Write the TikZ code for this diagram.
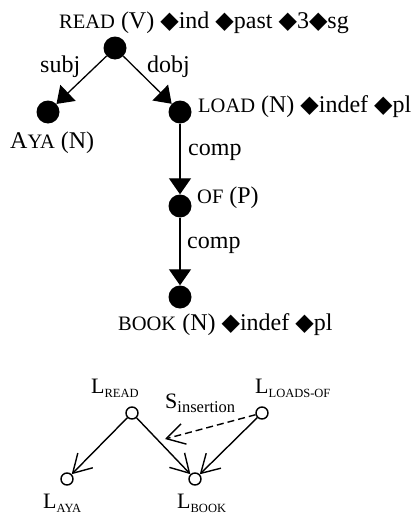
\documentclass[tikz,border=0pt]{standalone}
\usepackage{fontspec}
\setmainfont{Liberation Serif}
\newfontfamily\diafont{DejaVu Sans}
\usetikzlibrary{arrows.meta}
\newcommand{\sku}[1]{{\fontsize{20.5}{22}\selectfont #1}}
\newcommand{\dia}{{\diafont\fontsize{24}{26}\selectfont ◆}}
\newcommand{\lx}[3][12.5]{#2\raisebox{-4pt}{\fontsize{#1}{14}\selectfont #3}}
\begin{document}
\begin{tikzpicture}[x=1pt, y=-1pt,
        word/.style={circle, fill, inner sep=0pt, minimum size=23pt},
        lex/.style={circle, draw, line width=1.4pt, inner sep=0pt, minimum size=12pt},
        txt/.style={anchor=base west, inner sep=0pt, font=\fontsize{24}{26}\selectfont},
        ltxt/.style={anchor=base west, inner sep=0pt, font=\fontsize{22}{24}\selectfont},
        dep/.style={-{Triangle[length=16pt,width=22pt]}, line width=1.3pt},
        link/.style={-{Straight Barb[length=18pt,width=21pt]}, line width=1.4pt}
    ]
        \useasboundingbox (0,0) rectangle (415,514);
        % dependency tree
        \node[word] (read) at (115,48) {};
        \node[word] (aya) at (48,112) {};
        \node[word] (load) at (180,112) {};
        \node[word] (of) at (180,206) {};
        \node[word] (book) at (180,297) {};
        
        \node[txt] (readlbl) at (59,28) {\sku{READ} (V) \dia ind \dia past \dia 3\dia sg};
        \node[txt] (ayalbl) at (10,148) {A\sku{YA} (N)};
        \node[txt] (loadlbl) at (198,112) {\sku{LOAD} (N) \dia indef \dia pl};
        \node[txt] (oflbl) at (197,203) {\sku{OF} (P)};
        \node[txt] (booklbl) at (118,330) {\sku{BOOK} (N) \dia indef \dia pl};
        \node[txt] (subjlbl) at (40,72) {subj};
        \node[txt] (dobjlbl) at (147,72) {dobj};
        \node[txt] (complbl) at (188,155) {comp};
        \node[txt] (comp2lbl) at (187,248) {comp};
        
        \draw[dep] (read) -- (aya);
        \draw[dep] (read) -- (load);
        \draw[dep] (load) -- (of);
        \draw[dep] (of) -- (book);
        
        % lexical links
        \node[lex] (lread) at (132,413) {};
        \node[lex] (lloads) at (262,413) {};
        \node[lex] (laya) at (67,479) {};
        \node[lex] (lbook) at (195,479) {};
        \coordinate (ins) at (165,439);
        
        \node[ltxt] (lreadlbl) at (91,393) {\lx{L}{READ}};
        \node[ltxt] (lloadslbl) at (255,393) {\lx{L}{LOADS-OF}};
        \node[ltxt] (inslbl) at (165,408) {\lx[16.5]{S}{insertion}};
        \node[ltxt] (layalbl) at (43,508) {\lx{L}{AYA}};
        \node[ltxt] (lbooklbl) at (177,508) {\lx{L}{BOOK}};
        
        \draw[link] (lread) -- (laya);
        \draw[link] (lread) -- (lbook);
        \draw[link] (lloads) -- (lbook);
        \draw[link, dash pattern=on 7pt off 4pt] (lloads) -- (ins);
    \end{tikzpicture}
\end{document}
